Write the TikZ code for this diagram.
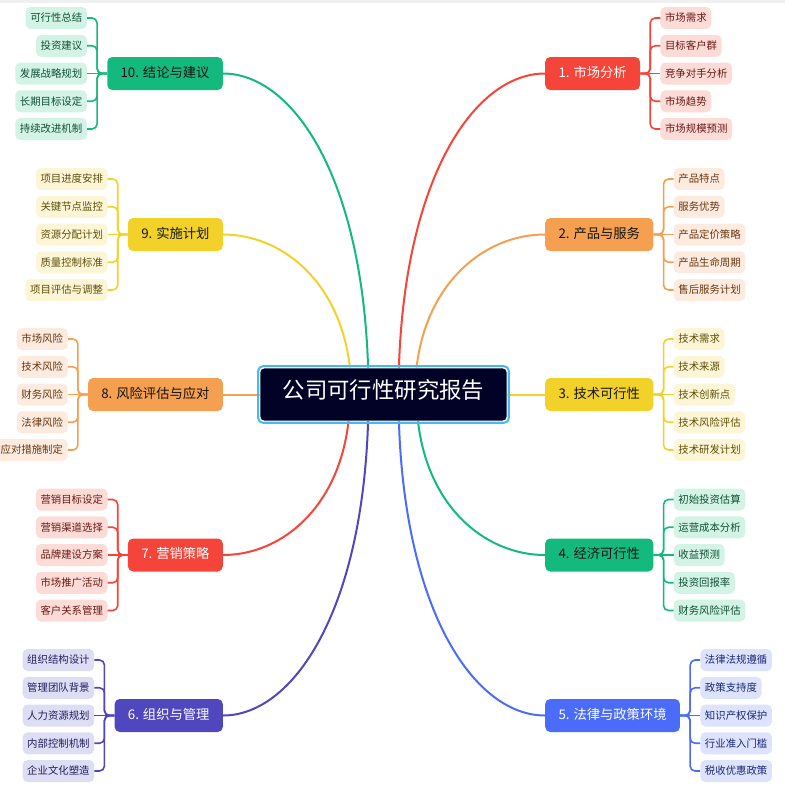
\documentclass[tikz,border=0pt]{standalone}
\usepackage{fontspec}
\setmainfont{Noto Sans CJK SC}
\usetikzlibrary{calc,backgrounds}
\definecolor{RedM}{RGB}{245,69,58}
\definecolor{RedL}{RGB}{253,220,216}
\definecolor{RedT}{RGB}{105,25,20}
\definecolor{OrM}{RGB}{245,160,80}
\definecolor{OrL}{RGB}{253,235,223}
\definecolor{OrT}{RGB}{105,55,15}
\definecolor{YeM}{RGB}{242,210,40}
\definecolor{YeL}{RGB}{252,246,214}
\definecolor{YeT}{RGB}{95,78,10}
\definecolor{GrM}{RGB}{20,185,125}
\definecolor{GrL}{RGB}{210,243,229}
\definecolor{GrT}{RGB}{15,80,52}
\definecolor{BlM}{RGB}{75,108,248}
\definecolor{BlL}{RGB}{221,227,253}
\definecolor{BlT}{RGB}{25,40,115}
\definecolor{InM}{RGB}{80,70,190}
\definecolor{InL}{RGB}{221,221,243}
\definecolor{InT}{RGB}{35,30,95}
\definecolor{RootF}{RGB}{2,2,38}
\definecolor{RootB}{RGB}{70,185,240}
\definecolor{DarkT}{RGB}{20,20,20}
\tikzset{
  leaf/.style={rounded corners=5pt, inner xsep=4.6pt, inner ysep=0pt, minimum height=22pt,
    text height=0.88em, text depth=0.12em, font=\fontsize{10.4}{12}\selectfont},
  brnode/.style={rounded corners=5pt, inner xsep=13.3pt, inner ysep=0pt, minimum height=33pt,
    text height=0.88em, text depth=0.12em, font=\fontsize{13.3}{16}\selectfont},
  rootnode/.style={rounded corners=4pt, fill=RootF, draw=white, line width=0.8pt, text=white,
    minimum width=247pt, minimum height=53pt, inner sep=0pt,
    text height=0.88em, text depth=0.12em, font=\fontsize{22.4}{26}\selectfont},
  rootframe/.style={draw=RootB, line width=2pt, rounded corners=5pt},
  mainline/.style={line width=2pt},
  subline/.style={line width=1.6pt, rounded corners=5pt},
}
\newcommand\rkids[5]{%
  \foreach \t [count=\i] in {#5} {
    \node[leaf, fill=#2, text=#3, anchor=west] (#1-\i) at ($(#1.east)+(20,{(\i-3)*27.75})$) {\t};
    \ifnum\i=3 \draw[subline,#4] (#1.east) -- (#1-\i.west);
    \else \draw[subline,#4] (#1.east) -| ($(#1.east)!0.5!(#1-\i.west)$) |- (#1-\i.west); \fi
  }}
\newcommand\lkids[5]{%
  \foreach \t [count=\i] in {#5} {
    \node[leaf, fill=#2, text=#3, anchor=east] (#1-\i) at ($(#1.west)+(-20,{(\i-3)*27.75})$) {\t};
    \ifnum\i=3 \draw[subline,#4] (#1.west) -- (#1-\i.east);
    \else \draw[subline,#4] (#1.west) -| ($(#1.west)!0.5!(#1-\i.east)$) |- (#1-\i.east); \fi
  }}
\newcommand\rcurve[3]{% start coord, branch, colour
  \draw[mainline,#3] (#1) .. controls ($(#1)!0.65!(#1 |- #2.west)$) and ($(#2.west)!0.5!(#1 |- #2.west)$) .. (#2.west);}
\newcommand\lcurve[3]{%
  \draw[mainline,#3] (#1) .. controls ($(#1)!0.65!(#1 |- #2.east)$) and ($(#2.east)!0.5!(#1 |- #2.east)$) .. (#2.east);}
\begin{document}
\begin{tikzpicture}[x=1pt,y=-1pt]
\useasboundingbox (0,0) rectangle (785,796);
\fill[gray!12] (0,0) rectangle (785,2.5);
% root
\node[rootnode] (root) at (383.5,394.5) {公司可行性研究报告};
\draw[rootframe] ([shift={(-1.5,-1.5)}]root.north west) rectangle ([shift={(1.5,1.5)}]root.south east);
% branches
\node[brnode, fill=RedM, text=white, anchor=west] (b1) at (545,73.5) {1. 市场分析};
\node[brnode, fill=OrM, text=DarkT, anchor=west] (b2) at (545,234.5) {2. 产品与服务};
\node[brnode, fill=YeM, text=DarkT, anchor=west] (b3) at (545,394.5) {3. 技术可行性};
\node[brnode, fill=GrM, text=DarkT, anchor=west] (b4) at (545,555) {4. 经济可行性};
\node[brnode, fill=BlM, text=white, anchor=west] (b5) at (545,715.5) {5. 法律与政策环境};
\node[brnode, fill=InM, text=white, anchor=east] (b6) at (223,715.5) {6. 组织与管理};
\node[brnode, fill=RedM, text=white, anchor=east] (b7) at (223,555) {7. 营销策略};
\node[brnode, fill=OrM, text=DarkT, anchor=east] (b8) at (223,394.5) {8. 风险评估与应对};
\node[brnode, fill=YeM, text=DarkT, anchor=east] (b9) at (223,234.5) {9. 实施计划};
\node[brnode, fill=GrM, text=DarkT, anchor=east] (b10) at (223,73.5) {10. 结论与建议};
% start points of main lines
\coordinate (s1) at ($(root.center)+(15,0)$);
\coordinate (s2) at ($(root.center)+(31.5,0)$);
\coordinate (s4) at ($(root.center)+(33,0)$);
\coordinate (s5) at ($(root.center)+(15,0)$);
\coordinate (s6) at ($(root.center)+(-15,0)$);
\coordinate (s7) at ($(root.center)+(-33.5,0)$);
\coordinate (s9) at ($(root.center)+(-32,0)$);
\coordinate (s10) at ($(root.center)+(-15,0)$);
\begin{scope}[on background layer]
  \rcurve{s1}{b1}{RedM}
  \rcurve{s2}{b2}{OrM}
  \draw[mainline,YeM] (root.center) -- (b3.west);
  \rcurve{s4}{b4}{GrM}
  \rcurve{s5}{b5}{BlM}
  \lcurve{s6}{b6}{InM}
  \lcurve{s7}{b7}{RedM}
  \draw[mainline,OrM] (root.center) -- (b8.east);
  \lcurve{s9}{b9}{YeM}
  \lcurve{s10}{b10}{GrM}
\end{scope}
% children
\rkids{b1}{RedL}{RedT}{RedM}{市场需求,目标客户群,竞争对手分析,市场趋势,市场规模预测}
\rkids{b2}{OrL}{OrT}{OrM}{产品特点,服务优势,产品定价策略,产品生命周期,售后服务计划}
\rkids{b3}{YeL}{YeT}{YeM}{技术需求,技术来源,技术创新点,技术风险评估,技术研发计划}
\rkids{b4}{GrL}{GrT}{GrM}{初始投资估算,运营成本分析,收益预测,投资回报率,财务风险评估}
\rkids{b5}{BlL}{BlT}{BlM}{法律法规遵循,政策支持度,知识产权保护,行业准入门槛,税收优惠政策}
\lkids{b6}{InL}{InT}{InM}{组织结构设计,管理团队背景,人力资源规划,内部控制机制,企业文化塑造}
\lkids{b7}{RedL}{RedT}{RedM}{营销目标设定,营销渠道选择,品牌建设方案,市场推广活动,客户关系管理}
\lkids{b8}{OrL}{OrT}{OrM}{市场风险,技术风险,财务风险,法律风险,应对措施制定}
\lkids{b9}{YeL}{YeT}{YeM}{项目进度安排,关键节点监控,资源分配计划,质量控制标准,项目评估与调整}
\lkids{b10}{GrL}{GrT}{GrM}{可行性总结,投资建议,发展战略规划,长期目标设定,持续改进机制}
\end{tikzpicture}
\end{document}
